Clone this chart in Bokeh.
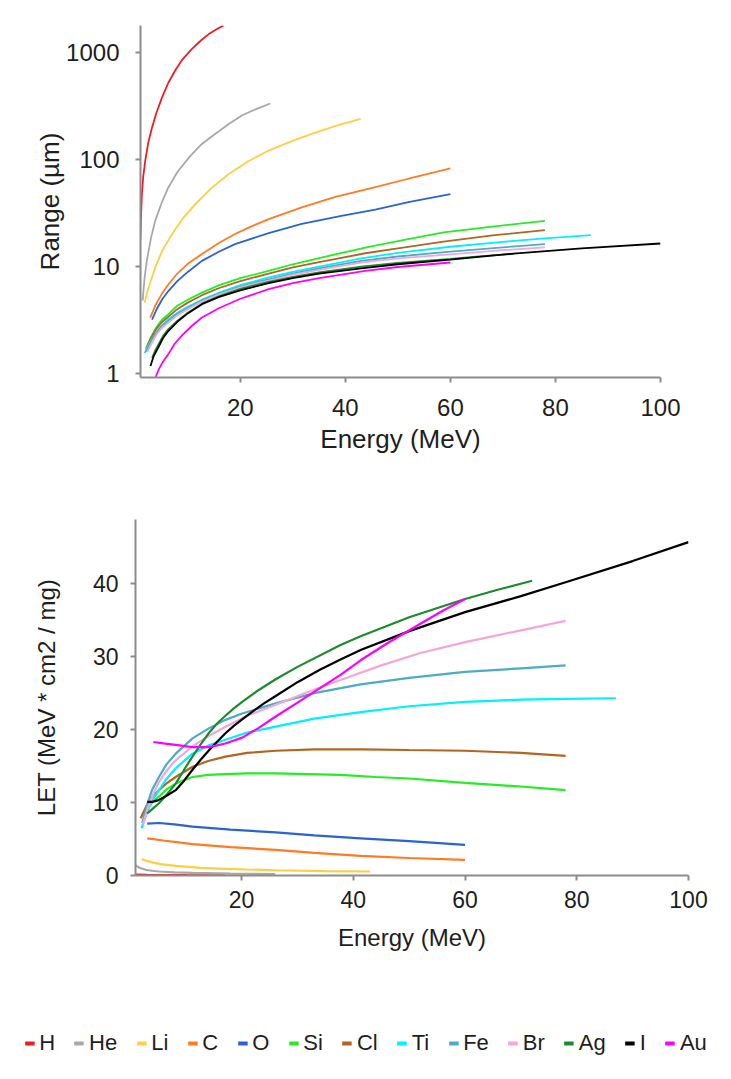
from bokeh.plotting import figure
from bokeh.models import Legend, LegendItem, FixedTicker, PrintfTickFormatter
from bokeh.embed import file_html
from bokeh.resources import INLINE

FONT = "Liberation Sans"
TXT = "#1e1e1e"
AXC = "#8c8c8c"

ions = ["H", "He", "Li", "C", "O", "Si", "Cl", "Ti", "Fe", "Br", "Ag", "I", "Au"]
colors = ["#ee1c25", "#a8a8a8", "#ffcf40", "#ff7a21", "#2b62d4", "#22ee22", "#b5651d",
          "#00f0ff", "#4bacc6", "#f4a6d7", "#1a8c2e", "#000000", "#ff00ff"]

# ---- Range (um) vs Energy (MeV) ----
H_rng_E = [0.95, 1.1, 1.27, 1.5, 1.9, 2.5, 3.2, 4.0, 5.1, 6.3, 7.6, 9.0, 10.8, 12.5, 14.0, 15.5, 16.8]
H_rng = [17.4, 30, 47.5, 68, 97, 145, 199, 270, 380, 520, 676, 860, 1075, 1290, 1480, 1640, 1780]
He_rng_E = [1.4, 1.8, 2.2, 3.0, 3.8, 5.0, 6.3, 8.0, 10.2, 12.5, 15.2, 17.8, 20.3, 23.0, 25.7]
He_rng = [4.8, 8.0, 11.3, 18.5, 26.7, 39, 54.7, 76, 104, 137, 173, 214, 257, 295, 333]
Li_rng_E = [1.8, 2.5, 3.8, 5.2, 7.0, 9.0, 11.4, 14.5, 17.8, 21.5, 25.4, 30.0, 34.3, 38.5, 42.9]
Li_rng = [4.6, 6.3, 9.8, 14.3, 20, 28, 38, 54, 73, 96, 121, 150, 178, 208, 239]
C_rng_E = [2.86, 3.8, 5.0, 6.3, 8.0, 10.0, 12.7, 16.0, 19.0, 22.0, 25.4, 31.7, 38.1, 45.7, 52, 60]
C_rng = [3.34, 4.3, 5.5, 6.8, 8.6, 10.6, 13.1, 16.7, 20.1, 23.6, 27.7, 35.6, 44.8, 55, 66, 82.4]
O_rng_E = [3.2, 4.2, 5.2, 6.3, 8.0, 10.0, 12.7, 16.0, 19.0, 25.4, 31.7, 39.0, 45.7, 52, 60]
O_rng = [3.2, 4.1, 5.0, 5.9, 7.3, 8.9, 11.3, 13.8, 16.2, 20.5, 25.0, 29.5, 34.0, 40.0, 47.5]
Si_rng_E = [2.0, 3.0, 4.0, 5.0, 6.3, 8.0, 10.0, 12.7, 16, 20, 25.4, 30, 35, 43.8, 50, 58.7, 68, 78]
Si_rng = [1.7, 2.2, 2.7, 3.15, 3.6, 4.3, 4.9, 5.7, 6.7, 7.8, 9.1, 10.5, 12.0, 15.0, 17.3, 20.8, 23.6, 26.7]
Cl_rng_E = [2.2, 3.0, 4.0, 5.0, 6.3, 8.0, 10.0, 12.7, 16, 20, 25.4, 30, 35, 43.8, 50, 58.7, 68, 78]
Cl_rng = [1.75, 2.15, 2.6, 3.0, 3.4, 4.0, 4.6, 5.4, 6.3, 7.3, 8.6, 9.8, 11.0, 13.3, 14.8, 17.1, 19.5, 21.9]
Ti_rng_E = [1.8, 2.5, 3.2, 4.0, 5.0, 6.3, 8.0, 10.0, 12.7, 16, 20, 25.4, 30, 35, 43, 50, 60, 70, 78, 86.7]
Ti_rng = [1.55, 1.85, 2.1, 2.4, 2.8, 3.2, 3.7, 4.2, 4.9, 5.7, 6.7, 7.9, 8.9, 10.0, 11.9, 13.4, 15.3, 17.0, 18.3, 19.6]
Fe_rng_E = [2.0, 2.5, 3.2, 4.0, 5.0, 6.3, 8.0, 10.0, 12.7, 16, 20, 25.4, 30, 35, 43, 50, 60, 70, 78]
Fe_rng = [1.6, 1.8, 2.1, 2.4, 2.75, 3.1, 3.6, 4.1, 4.8, 5.6, 6.5, 7.6, 8.6, 9.6, 11.3, 12.4, 13.8, 15.1, 16.2]
Br_rng_E = [2.3, 3.2, 4.0, 5.0, 6.3, 8.0, 10.0, 12.7, 16, 20, 25.4, 30, 35, 43, 50, 60, 70, 78]
Br_rng = [1.6, 1.95, 2.3, 2.65, 3.0, 3.5, 4.0, 4.7, 5.5, 6.4, 7.4, 8.4, 9.3, 10.9, 11.9, 13.0, 14.2, 15.1]
Ag_rng_E = [3.2, 3.8, 4.5, 5.3, 6.3, 8.0, 10.0, 12.7, 16, 20, 25.4, 30, 35, 43, 50, 60, 66, 72]
Ag_rng = [1.4, 1.65, 1.9, 2.25, 2.6, 3.1, 3.7, 4.5, 5.3, 6.2, 7.2, 8.0, 8.8, 10.0, 10.8, 11.8, 12.5, 13.1]
I_rng_E = [2.9, 3.5, 4.5, 5.3, 6.3, 8.0, 10.0, 12.7, 16, 20, 25.4, 30, 35, 43, 50, 60, 72, 85, 100]
I_rng = [1.18, 1.45, 1.8, 2.15, 2.5, 3.05, 3.65, 4.45, 5.2, 6.0, 7.0, 7.8, 8.6, 9.6, 10.5, 11.6, 13.2, 14.8, 16.4]
Au_rng_E = [3.9, 4.5, 5.3, 6.3, 7.5, 9.0, 10.8, 12.7, 16, 20, 25.4, 30, 35, 43.8, 50, 60]
Au_rng = [0.93, 1.1, 1.3, 1.52, 1.9, 2.3, 2.8, 3.34, 4.1, 5.0, 6.15, 7.0, 7.8, 9.1, 9.9, 10.9]

# ---- LET (MeV cm2/mg) vs Energy (MeV) ----
H_let_E = [1.0, 3.0, 6.0, 10.0, 17.0]
H_let = [0.12, 0.08, 0.06, 0.04, 0.03]
He_let_E = [1.04, 1.5, 2.0, 2.8, 4.0, 5.2, 8.0, 11.2, 18.0, 26.0]
He_let = [1.37, 1.15, 1.0, 0.78, 0.65, 0.55, 0.43, 0.35, 0.25, 0.2]
Li_let_E = [2.1, 3.0, 4.0, 5.5, 8.2, 12.7, 17.1, 21.0, 26.1, 35.0, 43.0]
Li_let = [2.24, 2.0, 1.8, 1.55, 1.33, 1.05, 0.92, 0.82, 0.72, 0.6, 0.55]
C_let_E = [3.1, 6.0, 11.2, 18.0, 26.1, 33.0, 41.3, 50.0, 60.0]
C_let = [5.1, 4.8, 4.3, 3.9, 3.5, 3.1, 2.7, 2.4, 2.15]
O_let_E = [3.1, 5.2, 8.0, 11.2, 18.0, 26.1, 33.0, 41.3, 50.0, 60.0]
O_let = [7.1, 7.2, 7.0, 6.7, 6.3, 5.9, 5.5, 5.1, 4.7, 4.2]
Si_let_E = [2.5, 3.5, 4.3, 5.2, 6.5, 8.2, 11.2, 14.0, 17.1, 21.0, 26.1, 32.0, 37.7, 44.0, 50.0, 60.0, 70.0, 78.0]
Si_let = [8.0, 9.5, 10.3, 10.8, 11.8, 12.6, 13.5, 13.8, 13.9, 14.0, 14.0, 13.9, 13.8, 13.5, 13.3, 12.7, 12.2, 11.7]
Cl_let_E = [1.93, 2.8, 3.8, 5.2, 6.5, 8.2, 11.2, 14.0, 17.1, 21.0, 26.1, 33.0, 41.3, 50.0, 60.0, 70.0, 78.0]
Cl_let = [7.85, 9.3, 10.6, 11.7, 12.6, 13.5, 14.9, 15.7, 16.3, 16.8, 17.1, 17.3, 17.3, 17.2, 17.1, 16.8, 16.4]
Ti_let_E = [2.1, 3.0, 4.0, 5.2, 6.5, 8.2, 11.2, 14.0, 17.1, 21.0, 26.1, 33.0, 41.3, 50.0, 60.0, 70.0, 78.0, 87.0]
Ti_let = [6.5, 8.5, 10.3, 11.7, 13.2, 14.7, 16.7, 17.8, 18.6, 19.6, 20.4, 21.5, 22.4, 23.2, 23.8, 24.1, 24.2, 24.3]
Fe_let_E = [2.2, 3.0, 4.0, 5.2, 6.5, 8.2, 11.2, 14.2, 17.0, 20.1, 26.1, 33.0, 41.3, 50.0, 60.0, 70.0, 78.0]
Fe_let = [7.2, 9.5, 11.8, 13.5, 15.2, 16.7, 18.8, 20.2, 21.3, 22.2, 23.6, 25.0, 26.2, 27.1, 27.9, 28.4, 28.8]
Br_let_E = [2.3, 3.2, 4.2, 5.2, 6.5, 8.2, 11.2, 14.0, 17.1, 21.0, 26.1, 32.0, 37.7, 45.0, 52.0, 60.0, 70.0, 78.0]
Br_let = [7.0, 9.2, 11.2, 12.8, 14.3, 15.8, 17.7, 19.1, 20.4, 21.9, 23.4, 25.2, 26.8, 28.8, 30.5, 32.0, 33.6, 34.9]
Ag_let_E = [3.1, 4.0, 5.2, 6.5, 8.2, 9.7, 11.2, 12.7, 14.2, 15.7, 17.1, 18.6, 20.1, 23.0, 26.1, 30.0, 37.7, 41.3, 50.0, 60.0, 66.0, 72.0]
Ag_let = [8.5, 9.1, 9.9, 11.0, 12.6, 14.5, 16.3, 18.0, 19.6, 20.9, 21.9, 22.9, 23.8, 25.4, 26.9, 28.6, 31.6, 32.8, 35.4, 37.9, 39.2, 40.4]
I_let_E = [3.1, 4.0, 5.0, 6.5, 8.2, 9.7, 11.2, 12.7, 14.2, 15.7, 17.1, 18.6, 20.1, 22.0, 24.0, 26.1, 30.0, 34.0, 37.7, 41.3, 50.0, 60.0, 70.0, 78.0, 90.0, 100.0]
I_let = [10.1, 10.1, 10.3, 10.9, 11.7, 13.0, 14.5, 15.9, 17.2, 18.4, 19.5, 20.5, 21.4, 22.5, 23.6, 24.6, 26.5, 28.2, 29.6, 30.9, 33.5, 36.1, 38.3, 40.2, 43.1, 45.7]
Au_let_E = [4.2, 6.0, 8.2, 11.2, 14.2, 17.1, 20.1, 23.0, 26.1, 30.0, 37.7, 41.3, 46.0, 52.0, 56.0, 60.0]
Au_let = [18.3, 18.1, 17.9, 17.6, 17.6, 18.1, 18.9, 20.2, 21.8, 23.7, 27.5, 29.5, 31.8, 34.5, 36.3, 37.9]

x_ticks = [20, 40, 60, 80, 100]
rng_ticks = [1, 10, 100, 1000]
let_ticks = [0, 10, 20, 30, 40]

g = globals()
W = 731


def style_axes(p, tick_size, label_size):
    for ax in (p.xaxis[0], p.yaxis[0]):
        ax.axis_line_color = AXC
        ax.axis_line_width = 2
        ax.major_tick_line_color = AXC
        ax.major_tick_line_width = 2
        ax.major_tick_out = 5
        ax.major_tick_in = 0
        ax.minor_tick_line_color = None
        ax.major_label_text_font = FONT
        ax.major_label_text_font_size = tick_size
        ax.major_label_text_color = TXT
        ax.axis_label_text_font = FONT
        ax.axis_label_text_font_size = label_size
        ax.axis_label_text_font_style = "normal"
        ax.axis_label_text_color = TXT
    p.grid.visible = False
    p.outline_line_color = None


# ---------- top chart ----------
p1 = figure(width=W, height=470, x_range=(1, 100), y_range=(0.92, 1780),
            y_axis_type="log", output_backend="svg", toolbar_location=None,
            min_border_left=140, min_border_right=W - 660, min_border_top=25,
            min_border_bottom=93)
style_axes(p1, "24px", "26px")
p1.xaxis.ticker = FixedTicker(ticks=x_ticks)
p1.yaxis.ticker = FixedTicker(ticks=rng_ticks)
p1.yaxis.formatter = PrintfTickFormatter(format="%d")
p1.xaxis.axis_label = "Energy (MeV)"
p1.yaxis.axis_label = "Range (µm)"
p1.xaxis.major_label_standoff = 16
p1.yaxis.major_label_standoff = 16
p1.yaxis.axis_label_standoff = -2
p1.xaxis.axis_label_standoff = 5

for ion, c in zip(ions, colors):
    p1.line(g[ion + "_rng_E"], g[ion + "_rng"], line_color=c, line_width=1.8)

# ---------- bottom chart ----------
p2 = figure(width=W, height=539, x_range=(1, 100), y_range=(0, 48.8),
            output_backend="svg", toolbar_location=None,
            min_border_left=135, min_border_right=W - 688, min_border_top=49,
            min_border_bottom=134)
style_axes(p2, "23px", "24px")
p2.xaxis.ticker = FixedTicker(ticks=x_ticks)
p2.yaxis.ticker = FixedTicker(ticks=let_ticks)
p2.xaxis.axis_label = "Energy (MeV)"
p2.yaxis.axis_label = "LET (MeV * cm2 / mg)"
p2.xaxis.major_label_standoff = 10
p2.yaxis.major_label_standoff = 12
p2.yaxis.axis_label_standoff = 30
p2.xaxis.axis_label_standoff = 13

for ion, c in zip(ions, colors):
    p2.line(g[ion + "_let_E"], g[ion + "_let"], line_color=c, line_width=2.2)

# ---------- legend strip ----------
p3 = figure(width=W, height=68, x_range=(0, 1), y_range=(0, 1),
            output_backend="svg", toolbar_location=None,
            x_axis_location=None, y_axis_location=None,
            min_border=0, min_border_left=0, min_border_right=0,
            min_border_top=0, min_border_bottom=0)
p3.grid.visible = False
p3.outline_line_color = None
items = []
for ion, c in zip(ions, colors):
    # off-screen stand-in renderer, used only for the legend swatch
    r = p3.line([-5, -4], [-5, -5], line_color=c, line_width=4)
    items.append(LegendItem(label=ion, renderers=[r]))
legend = Legend(items=items, orientation="horizontal", location="center",
                border_line_color=None, background_fill_alpha=0,
                padding=0, margin=0, spacing=19, label_standoff=5,
                glyph_width=10, glyph_height=20, label_width=0, label_height=20,
                label_text_font=FONT, label_text_font_size="22px",
                label_text_color=TXT)
p3.add_layout(legend)

open("out.html", "w").write(file_html([p1, p2, p3], INLINE))
